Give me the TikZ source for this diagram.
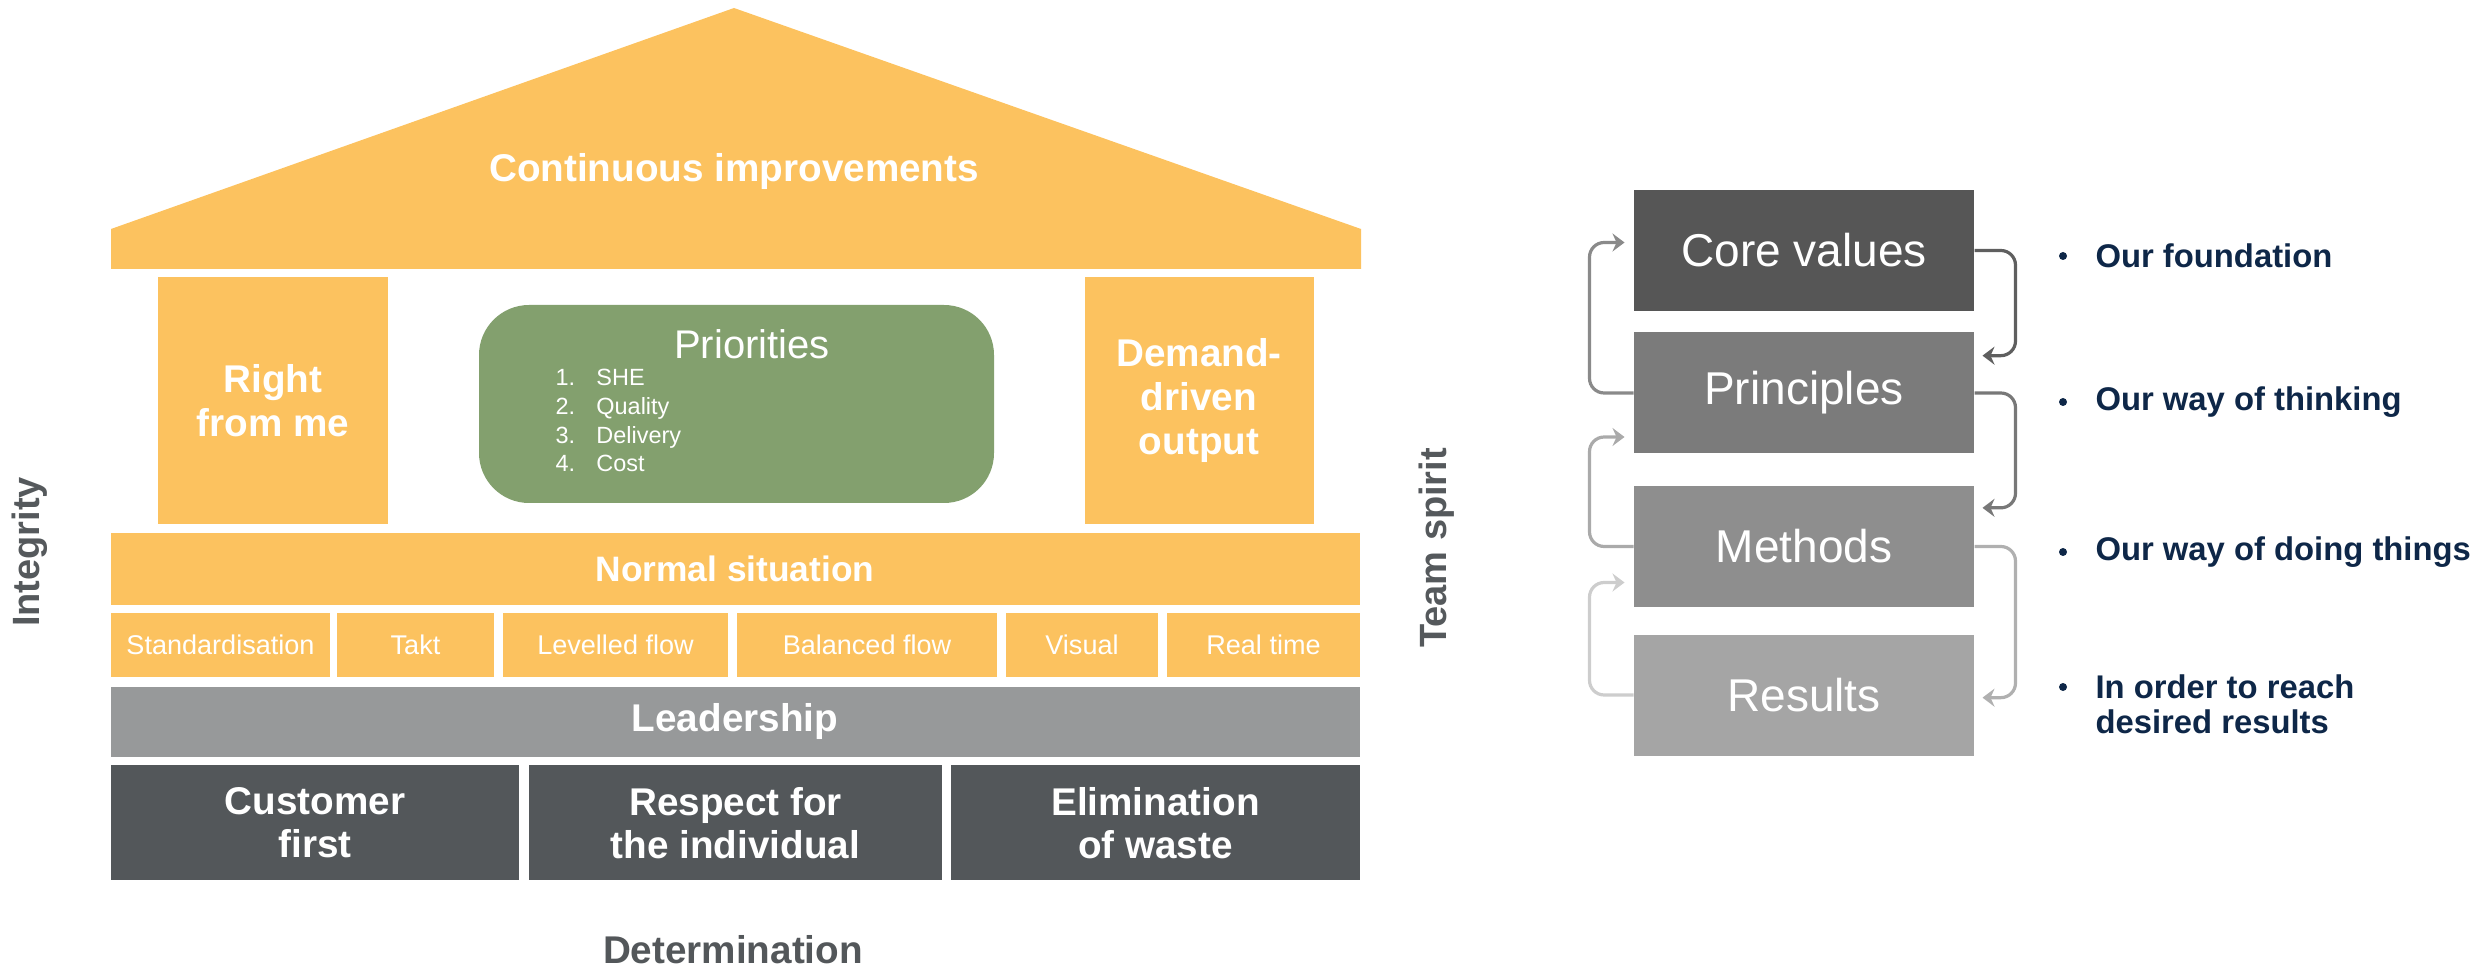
\documentclass[tikz,border=0pt]{standalone}
\usepackage{fontspec}
\setmainfont{Liberation Sans}
\usetikzlibrary{arrows.meta}

\definecolor{houseyellow}{RGB}{252,194,95}
\definecolor{prioritygreen}{RGB}{131,160,110}
\definecolor{leadgray}{RGB}{151,153,154}
\definecolor{basedark}{RGB}{83,87,90}
\definecolor{sidegray}{RGB}{85,89,92}
\definecolor{navytext}{RGB}{14,39,72}
\definecolor{corefill}{RGB}{86,86,86}
\definecolor{princfill}{RGB}{123,123,123}
\definecolor{methfill}{RGB}{142,142,142}
\definecolor{resfill}{RGB}{165,165,165}
\definecolor{arrowA}{RGB}{95,95,95}
\definecolor{arrowB}{RGB}{120,120,120}
\definecolor{arrowC}{RGB}{176,176,176}
\definecolor{backA}{RGB}{138,138,138}
\definecolor{backB}{RGB}{170,170,170}
\definecolor{backC}{RGB}{205,205,205}

\tikzset{every picture/.style={line width=0.75pt}}
\tikzset{
  bigtxt/.style={text=white, font=\fontsize{29}{33}\selectfont\bfseries, align=center, inner sep=0.75pt},
  smalltxt/.style={text=white, font=\fontsize{20.3}{24}\selectfont, inner sep=0.75pt},
  levelbox/.style={text=white, font=\fontsize{34.5}{40}\selectfont, minimum width=255pt, minimum height=90.75pt, inner sep=0pt},
  bullettxt/.style={text=navytext, font=\fontsize{24.6}{26.3}\selectfont\bfseries, align=left, anchor=west, inner sep=0.75pt},
  bulletdot/.style={circle, fill=navytext, inner sep=0pt, minimum size=6pt},
  sidetxt/.style={text=sidegray, font=\fontsize{28.5}{32}\selectfont\bfseries, rotate=90, inner sep=0.75pt},
  looparrow/.style={line width=2.4pt, rounded corners=11pt, -{Stealth[length=9pt,width=13.5pt,inset=3pt]}},
}

\begin{document}
\begin{tikzpicture}[x=0.75pt,y=0.75pt,yscale=-1,xscale=1]
\useasboundingbox (0,0) rectangle (2481,969);

%Shape: Roof
\fill[houseyellow] (111,269) -- (111,229) -- (734,8) -- (1361,229) -- (1361,269) -- cycle;
%Shape: Pillars
\fill[houseyellow] (158,277) rectangle (388,524);
\fill[houseyellow] (1085,277) rectangle (1314,524);
%Shape: Priorities box
\fill[prioritygreen, rounded corners=37.5pt] (479,305) rectangle (994,503);
%Shape: Normal situation
\fill[houseyellow] (111,533) rectangle (1360,605);
%Shape: Small blocks
\fill[houseyellow] (111,613) rectangle (330,677);
\fill[houseyellow] (337,613) rectangle (494,677);
\fill[houseyellow] (503,613) rectangle (728,677);
\fill[houseyellow] (737,613) rectangle (997,677);
\fill[houseyellow] (1006,613) rectangle (1158,677);
\fill[houseyellow] (1167,613) rectangle (1360,677);
%Shape: Leadership
\fill[leadgray] (111,687) rectangle (1360,757);
%Shape: Foundation
\fill[basedark] (111,765) rectangle (519,880);
\fill[basedark] (529,765) rectangle (942,880);
\fill[basedark] (951,765) rectangle (1360,880);

% Text Node
\node[bigtxt] (roof) at (734,172) {Continuous improvements};
% Text Node
\node[bigtxt] (rightme) at (273,401) {Right\\from me};
% Text Node
\node[bigtxt] (demand) at (1199,401) {Demand-\\driven\\output};
% Text Node
\node[text=white, font=\fontsize{30}{34}\selectfont, inner sep=0.75pt] (prio) at (752,344) {Priorities};
% Text Node
\node[text=white, font=\fontsize{17.6}{21.5}\selectfont, anchor=west, inner sep=0pt] (priolist) at (555,423)
  {\begin{tabular}{@{}l@{\hspace{16pt}}l@{}}1. & SHE\\ 2. & Quality\\ 3. & Delivery\\ 4. & Cost\end{tabular}};
% Text Node
\node[bigtxt, font=\fontsize{26.5}{30}\selectfont\bfseries] (normal) at (735,569) {Normal situation};
% Text Node
\node[smalltxt] (std) at (220.5,645) {Standardisation};
\node[smalltxt] (takt) at (415.5,645) {Takt};
\node[smalltxt] (lev) at (615.5,645) {Levelled flow};
\node[smalltxt] (bal) at (867,645) {Balanced flow};
\node[smalltxt] (vis) at (1082,645) {Visual};
\node[smalltxt] (real) at (1263.5,645) {Real time};
% Text Node
\node[bigtxt] (lead) at (735,722) {Leadership};
% Text Node
\node[bigtxt, font=\fontsize{29}{32}\selectfont\bfseries] (cust) at (315,823) {Customer\\first};
\node[bigtxt, font=\fontsize{29}{32}\selectfont\bfseries] (resp) at (735.5,823) {Respect for\\the individual};
\node[bigtxt, font=\fontsize{29}{32}\selectfont\bfseries] (elim) at (1155.5,823) {Elimination\\of waste};
% Text Node
\node[bigtxt, text=basedark] (determ) at (733,950) {Determination};
% Text Node
\node[sidetxt] (integ) at (30,552) {Integrity};
% Text Node
\node[sidetxt] (team) at (1437,548) {Team spirit};

% Level boxes
\node[levelbox, fill=corefill] (core) at (1804,250.5) {Core values};
\node[levelbox, fill=princfill] (princ) at (1804,393) {Principles};
\node[levelbox, fill=methfill] (meth) at (1804,546.5) {Methods};
\node[levelbox, fill=resfill] (res) at (1804,695) {Results};

% Downward arrows
\draw[looparrow, draw=arrowA] (core.east) -- ++(41,0) |- ([xshift=6pt,yshift=-28pt]princ.east);
\draw[looparrow, draw=arrowB] (princ.east) -- ++(41,0) |- ([xshift=6pt,yshift=-29pt]meth.east);
\draw[looparrow, draw=arrowC] (meth.east) -- ++(41,0) |- ([xshift=6pt,yshift=2pt]res.east);
% Upward arrows
\draw[looparrow, draw=backA] (princ.west) -- ++(-44,0) |- ([xshift=-6.75pt,yshift=-6pt]core.west);
\draw[looparrow, draw=backB] (meth.west) -- ++(-44,0) |- ([xshift=-6.75pt,yshift=33pt]princ.west);
\draw[looparrow, draw=backC] (res.west) -- ++(-44,0) |- ([xshift=-6.75pt,yshift=27pt]meth.west);

% Bullets
\node[bulletdot] (d1) at (2063,256) {};
\node[bullettxt] (t1) at (2094,256) {Our foundation};
\node[bulletdot] (d2) at (2063,402) {};
\node[bullettxt] (t2) at (2094,402) {Our way of thinking};
\node[bulletdot] (d3) at (2063,552) {};
\node[bullettxt] (t3) at (2094,552) {Our way of doing things};
\node[bulletdot] (d4) at (2063,687) {};
\node[bullettxt] (t4) at (2094,704.5) {In order to reach\\desired results};

\end{tikzpicture}
\end{document}
